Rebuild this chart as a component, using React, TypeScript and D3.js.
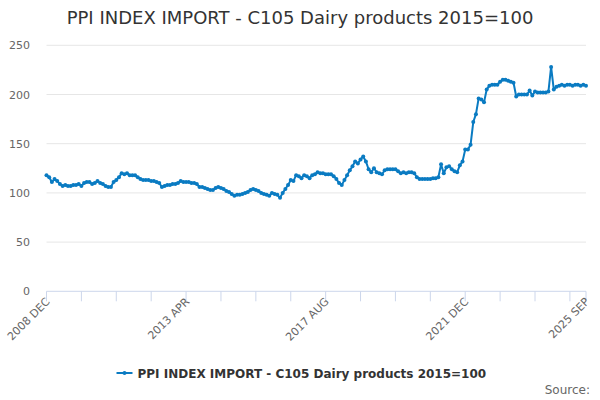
import React, { useEffect, useRef } from 'react';
import * as d3 from 'd3';

// monthly index values, Dec 2008 .. Sep 2025
const y2008 = [118];
const y2009 = [116, 111, 114, 112, 109, 107, 108, 107, 107, 108, 108, 109];
const y2010 = [107, 110, 111, 111, 109, 110, 112, 110, 109, 107, 106, 106];
const y2011 = [111, 113, 116, 120, 119, 120, 118, 118, 118, 116, 114, 113];
const y2012 = [113, 113, 112, 112, 111, 110, 106, 107, 108, 108, 109, 109];
const y2013 = [110, 112, 111, 111, 111, 110, 110, 109, 106, 106, 105, 104];
const y2014 = [103, 103, 105, 106, 105, 104, 102, 101, 99, 97, 98, 98];
const y2015 = [99, 100, 101, 103, 104, 103, 102, 100, 99, 98, 97, 100];
const y2016 = [99, 98, 95, 100, 104, 108, 113, 112, 118, 117, 115, 118];
const y2017 = [117, 115, 118, 119, 121, 120, 120, 119, 119, 119, 117, 114];
const y2018 = [110, 108, 113, 118, 123, 127, 132, 130, 134, 137, 132, 124];
const y2019 = [121, 125, 121, 120, 119, 123, 124, 124, 124, 124, 122, 120];
const y2020 = [121, 120, 121, 121, 120, 116, 114, 114, 114, 114, 114, 115];
const y2021 = [115, 116, 129, 120, 126, 127, 124, 122, 121, 128, 132, 144];
const y2022 = [144, 149, 172, 180, 196, 195, 192, 205, 209, 210, 210, 210];
const y2023 = [213, 215, 215, 214, 213, 212, 198, 200, 200, 200, 200, 204];
const y2024 = [199, 203, 202, 202, 202, 202, 203, 228, 205, 208, 209, 210];
const y2025 = [209, 210, 210, 209, 210, 210, 209, 210, 209];

const monthNames = ['JAN', 'FEB', 'MAR', 'APR', 'MAY', 'JUN', 'JUL', 'AUG', 'SEP', 'OCT', 'NOV', 'DEC'];
const yearStarts = [
  { year: 2008, firstMonth: 11, values: y2008 },
  { year: 2009, firstMonth: 0, values: y2009 },
  { year: 2010, firstMonth: 0, values: y2010 },
  { year: 2011, firstMonth: 0, values: y2011 },
  { year: 2012, firstMonth: 0, values: y2012 },
  { year: 2013, firstMonth: 0, values: y2013 },
  { year: 2014, firstMonth: 0, values: y2014 },
  { year: 2015, firstMonth: 0, values: y2015 },
  { year: 2016, firstMonth: 0, values: y2016 },
  { year: 2017, firstMonth: 0, values: y2017 },
  { year: 2018, firstMonth: 0, values: y2018 },
  { year: 2019, firstMonth: 0, values: y2019 },
  { year: 2020, firstMonth: 0, values: y2020 },
  { year: 2021, firstMonth: 0, values: y2021 },
  { year: 2022, firstMonth: 0, values: y2022 },
  { year: 2023, firstMonth: 0, values: y2023 },
  { year: 2024, firstMonth: 0, values: y2024 },
  { year: 2025, firstMonth: 0, values: y2025 },
];

const tickLabels = ['2008 DEC', '2013 APR', '2017 AUG', '2021 DEC', '2025 SEP'];
const yTicks = [0, 50, 100, 150, 200, 250];
const seriesName = 'PPI INDEX IMPORT - C105 Dairy products 2015=100';
const title = 'PPI INDEX IMPORT - C105 Dairy products 2015=100';

const data = yearStarts.flatMap(y =>
  y.values.map((v, k) => ({ label: `${y.year} ${monthNames[y.firstMonth + k]}`, value: v }))
);
const categories = data.map(d => d.label);

const FONT = '"DejaVu Sans", sans-serif';
const COLOR = '#0a7bc2';

const App: React.FC = () => {
  const ref = useRef<SVGSVGElement>(null);

  useEffect(() => {
    const svg = d3.select(ref.current);
    svg.selectAll('*').remove();

    const left = 46.5, right = 586, top = 45.3, bottom = 291.3;

    const x = d3.scalePoint<string>().domain(categories).range([left, right]).padding(0);
    const y = d3.scaleLinear().domain([0, 250]).range([bottom, top]);

    // title
    svg.append('text')
      .attr('x', 300).attr('y', 24)
      .attr('text-anchor', 'middle')
      .attr('font-family', FONT).attr('font-size', 18).attr('fill', '#333333')
      .text(title);

    // grid + y labels
    const grid = svg.append('g');
    yTicks.forEach(t => {
      if (t > 0) {
        grid.append('line')
          .attr('x1', left).attr('x2', right)
          .attr('y1', y(t)).attr('y2', y(t))
          .attr('stroke', '#e6e6e6').attr('stroke-width', 1);
      }
      grid.append('text')
        .attr('x', 30).attr('y', y(t) + 4)
        .attr('text-anchor', 'end')
        .attr('font-family', FONT).attr('font-size', 11).attr('fill', '#666666')
        .text(t);
    });

    // x axis
    const axis = svg.append('g');
    axis.append('line')
      .attr('x1', left).attr('x2', right)
      .attr('y1', bottom).attr('y2', bottom)
      .attr('stroke', '#ccd6eb');
    const tickIdx = d3.range(0, categories.length, 13).concat([categories.length - 1]);
    tickIdx.forEach(i => {
      const tx = x(categories[i])!;
      axis.append('line')
        .attr('x1', tx).attr('x2', tx)
        .attr('y1', bottom).attr('y2', bottom + 10)
        .attr('stroke', '#ccd6eb');
    });
    tickLabels.forEach(lbl => {
      const tx = x(lbl)!;
      axis.append('text')
        .attr('transform', `translate(${tx + 4},${bottom + 11}) rotate(-45)`)
        .attr('text-anchor', 'end')
        .attr('font-family', FONT).attr('font-size', 11).attr('fill', '#666666')
        .text(lbl);
    });

    // series
    const line = d3.line<{ label: string; value: number }>()
      .x(d => x(d.label)!)
      .y(d => y(d.value));
    svg.append('path')
      .datum(data)
      .attr('d', line)
      .attr('fill', 'none')
      .attr('stroke', COLOR)
      .attr('stroke-width', 2)
      .attr('stroke-linejoin', 'round');
    svg.append('g')
      .selectAll('circle')
      .data(data)
      .enter().append('circle')
      .attr('cx', d => x(d.label)!)
      .attr('cy', d => y(d.value))
      .attr('r', 2)
      .attr('fill', COLOR);

    // legend
    const lg = svg.append('g');
    lg.append('line')
      .attr('x1', 116.5).attr('x2', 132.5)
      .attr('y1', 373).attr('y2', 373)
      .attr('stroke', COLOR).attr('stroke-width', 2);
    lg.append('circle').attr('cx', 124.5).attr('cy', 373).attr('r', 2).attr('fill', COLOR);
    lg.append('text')
      .attr('x', 137.5).attr('y', 377.5)
      .attr('font-family', FONT).attr('font-size', 12).attr('font-weight', 'bold').attr('fill', '#333333')
      .text(seriesName);

    svg.append('text')
      .attr('x', 590).attr('y', 394)
      .attr('text-anchor', 'end')
      .attr('font-family', FONT).attr('font-size', 12).attr('fill', '#666666')
      .text('Source:');
  }, []);

  return (
    <svg ref={ref} width={600} height={400}
      style={{ position: 'absolute', left: 0, top: 0, background: '#ffffff' }} />
  );
};

export default App;
